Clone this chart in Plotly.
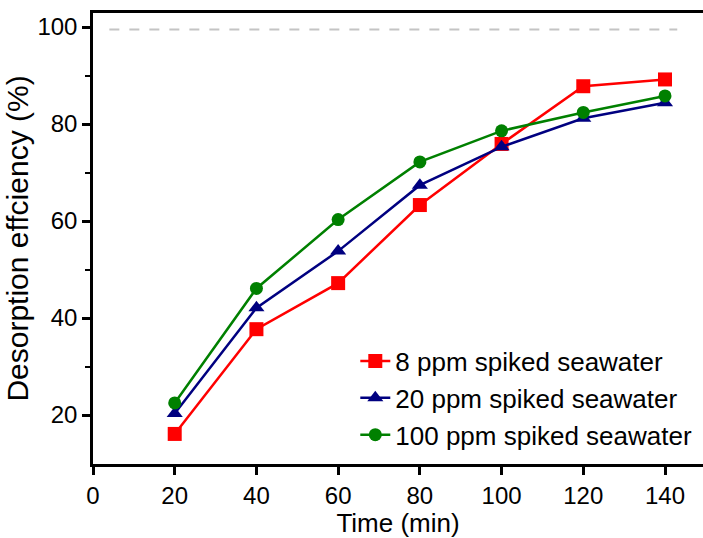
import plotly.graph_objects as go

# Data
time_min = [20, 40, 60, 80, 100, 120, 140]
ppm8 = [16.1, 37.7, 47.2, 63.3, 75.9, 87.8, 89.2]
ppm20 = [20.3, 42.1, 53.8, 67.4, 75.3, 81.2, 84.4]
ppm100 = [22.5, 46.1, 60.3, 72.2, 78.6, 82.4, 85.8]
ref_x = [4, 143]
ref_y = [99.5, 99.5]

x_ticks = [0, 20, 40, 60, 80, 100, 120, 140]
y_ticks = [20, 40, 60, 80, 100]

FONT = "Liberation Sans, Arial, sans-serif"

fig = go.Figure()

fig.add_trace(go.Scatter(
    x=ref_x, y=ref_y, mode="lines", showlegend=False, hoverinfo="skip",
    line=dict(color="#c4c4c4", width=2, dash="10px,10px"),
))

fig.add_trace(go.Scatter(
    x=time_min, y=ppm8, mode="lines+markers", name="8 ppm spiked seawater",
    line=dict(color="#ff0000", width=2.5),
    marker=dict(symbol="square", size=14, color="#ff0000"),
))
fig.add_trace(go.Scatter(
    x=time_min, y=ppm20, mode="lines+markers", name="20 ppm spiked seawater",
    line=dict(color="#000080", width=2.5),
    marker=dict(symbol="triangle-up", size=14, color="#000080"),
))
fig.add_trace(go.Scatter(
    x=time_min, y=ppm100, mode="lines+markers", name="100 ppm spiked seawater",
    line=dict(color="#008000", width=2.5),
    marker=dict(symbol="circle", size=13, color="#008000"),
))

fig.update_layout(
    width=703, height=538,
    margin=dict(l=93, r=0, t=13, b=74),
    paper_bgcolor="white", plot_bgcolor="white",
    font=dict(family=FONT, color="black", size=24),
    legend=dict(
        x=0.43, y=0.146, xanchor="left", yanchor="middle",
        bgcolor="rgba(0,0,0,0)", font=dict(size=26, family=FONT, color="black"),
        itemsizing="trace", tracegroupgap=0,
    ),
    showlegend=True,
)

fig.update_xaxes(
    range=[0, 149.3], tickvals=x_ticks, ticktext=[str(v) for v in x_ticks],
    showgrid=False, zeroline=False, automargin=False,
    showline=True, linecolor="black", linewidth=2.5, mirror=True,
    ticks="outside", ticklen=8, tickwidth=2.5, tickcolor="black",
    tickfont=dict(size=24, family=FONT, color="black"),
    title=dict(text="Time (min)", font=dict(size=26, family=FONT, color="black"), standoff=14),
)
fig.update_yaxes(
    range=[9.9, 102.9], tickvals=y_ticks, ticktext=[str(v) for v in y_ticks],
    showgrid=False, zeroline=False, automargin=False,
    showline=True, linecolor="black", linewidth=2.5, mirror=False,
    ticks="outside", ticklen=8, tickwidth=2.5, tickcolor="black",
    minor=dict(ticks="outside", ticklen=5, tickwidth=2, tickcolor="black",
               tickvals=[30, 50, 70, 90]),
    tickfont=dict(size=24, family=FONT, color="black"),
    title=dict(text="Desorption effciency (%)", font=dict(size=30, family=FONT, color="black"), standoff=0),
)

fig.write_html("out.html")
